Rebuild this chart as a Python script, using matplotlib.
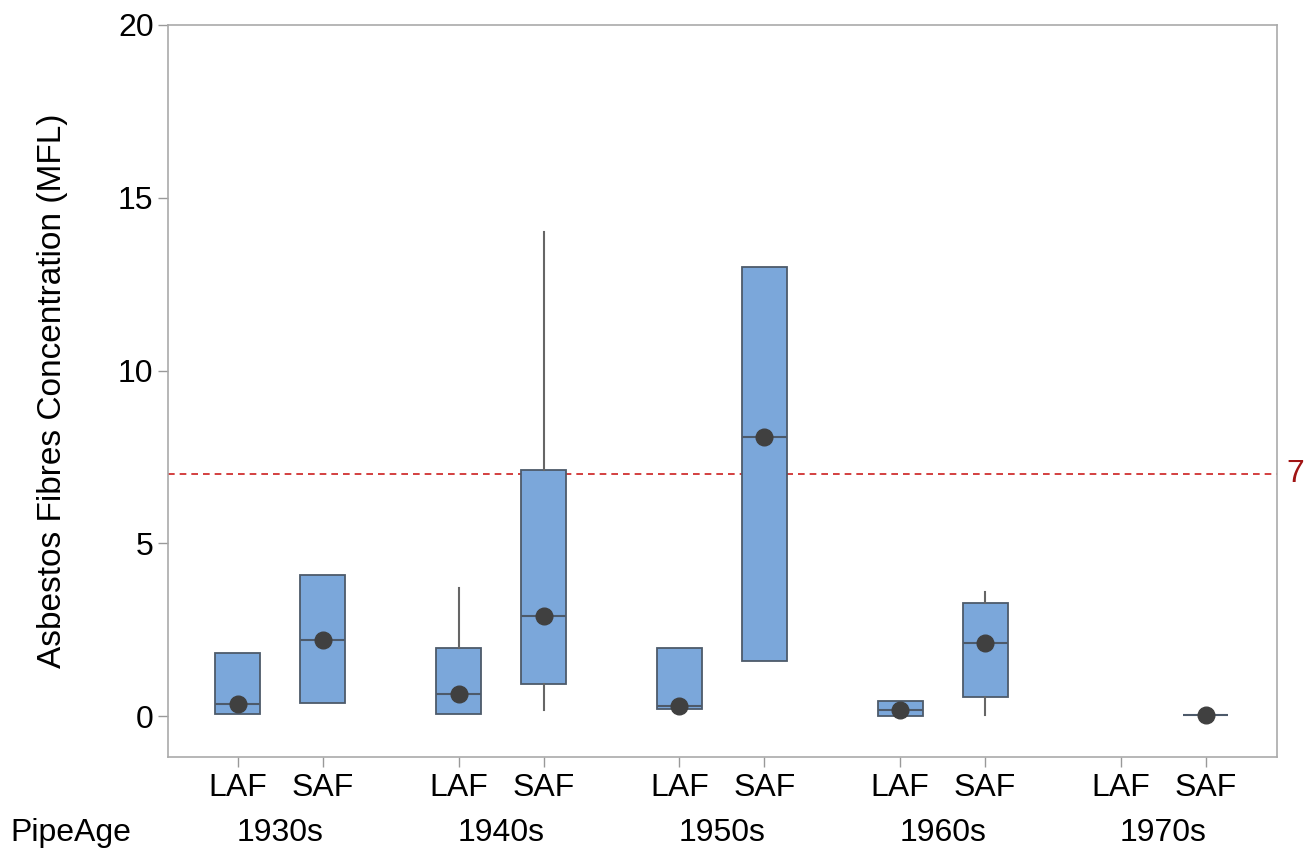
import matplotlib
matplotlib.use("Agg")
import matplotlib.pyplot as plt

plt.rcParams['font.family'] = ['Liberation Sans', 'DejaVu Sans']

# Box statistics (MFL)
decades = ['1930s', '1940s', '1950s', '1960s', '1970s']
fibres = ['LAF', 'SAF']
# order: 1930s LAF, 1930s SAF, 1940s LAF, ... 1970s SAF (None = no data)
whislo = [0.06, 0.40, 0.08, 0.17, 0.21, 1.59, 0.00, 0.03, None, 0.05]
q1     = [0.06, 0.40, 0.08, 0.94, 0.21, 1.59, 0.00, 0.56, None, 0.05]
med    = [0.37, 2.21, 0.65, 2.89, 0.30, 8.09, 0.18, 2.13, None, 0.05]
q3     = [1.82, 4.10, 1.97, 7.11, 1.97, 12.99, 0.45, 3.28, None, 0.05]
whishi = [1.82, 4.10, 3.71, 14.0, 1.97, 12.99, 0.45, 3.60, None, 0.05]
means  = [0.37, 2.21, 0.66, 2.89, 0.29, 8.09, 0.18, 2.13, None, 0.05]
limit = 7

group_gap = 2.6
positions = []
labels = []
for g, d in enumerate(decades):
    for s, f in enumerate(fibres):
        positions.append(g * group_gap + s)
        labels.append(f)

stats = []
pos_used = []
mean_val = []
for i in range(len(positions)):
    if med[i] is None:
        continue
    stats.append({'whislo': whislo[i], 'q1': q1[i], 'med': med[i],
                  'q3': q3[i], 'whishi': whishi[i], 'fliers': []})
    pos_used.append(positions[i])
    mean_val.append(means[i])

fig = plt.figure(figsize=(13.14, 8.5), dpi=100)
ax = fig.add_axes([0.128, 0.11, 0.844, 0.861])

edge = '#4d5a6a'
ax.bxp(stats, positions=pos_used, widths=0.53, patch_artist=True,
       showcaps=False,
       boxprops=dict(facecolor='#7ba7da', edgecolor=edge, linewidth=1.3),
       medianprops=dict(color=edge, linewidth=1.5),
       whiskerprops=dict(color='#666666', linewidth=1.5))
ax.plot(pos_used, mean_val, 'o', color='#404040', markersize=12, zorder=5)

ax.axhline(limit, color='#cc1f1f', linestyle=(0, (4, 3)), linewidth=1.2, zorder=1)
ax.text(1.008, limit, str(limit), transform=ax.get_yaxis_transform(),
        color='#a01414', fontsize=23, va='center', ha='left')

ax.set_xlim(-0.82, 12.24)
ax.set_ylim(-1.16, 20)
ax.set_yticks([0, 5, 10, 15, 20])
ax.set_xticks(positions)
ax.set_xticklabels(labels)
ax.tick_params(axis='both', labelsize=23, color='#999999', length=7, width=1)
ax.tick_params(axis='x', pad=5)
ax.set_ylabel('Asbestos Fibres Concentration (MFL)', fontsize=24, labelpad=36)

for sp in ax.spines.values():
    sp.set_color('#aaaaaa')
    sp.set_linewidth(1.2)

# decade row under the fibre labels
for g, d in enumerate(decades):
    ax.text(g * group_gap + 0.5, -0.105, d, transform=ax.get_xaxis_transform(),
            fontsize=23, ha='center', va='center')
ax.text(-0.1425, -0.105, 'PipeAge', transform=ax.transAxes,
        fontsize=23, ha='left', va='center')

fig.savefig('out.png', dpi=100)
